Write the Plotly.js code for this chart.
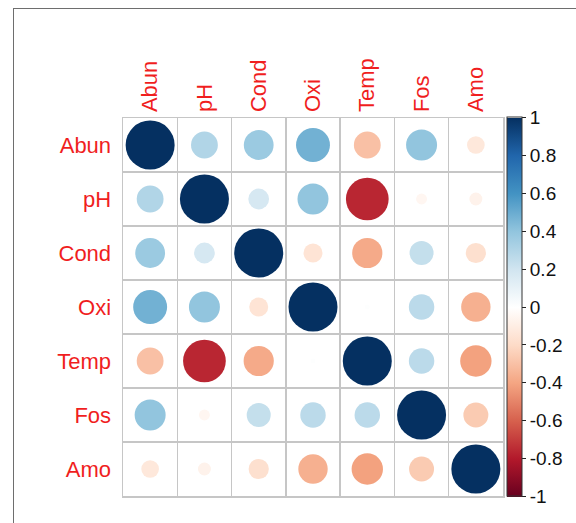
<!DOCTYPE html>
<html>
<head>
<meta charset="utf-8">
<script src="https://cdn.plot.ly/plotly-3.0.1.min.js"></script>
<style>
  html, body { margin: 0; padding: 0; background: #fff; }
  #wrap { position: relative; width: 576px; height: 523px; overflow: hidden; }
  #frame { position: absolute; left: 13px; top: 8px; width: 700px; height: 700px;
           border-left: 1.5px solid #6e6e6e; border-top: 1.5px solid #6e6e6e; pointer-events: none; }
  #chart { position: absolute; left: 0; top: 0; width: 576px; height: 523px; }
</style>
</head>
<body>
<div id="wrap">
  <div id="chart"></div>
  <div id="frame"></div>
</div>
<script>
// Variables (rows and columns of the correlation matrix)
var variables = ["Abun", "pH", "Cond", "Oxi", "Temp", "Fos", "Amo"];

// Correlation matrix rows
var rowAbun = [1.00, 0.30, 0.37, 0.48, -0.30, 0.40, -0.13];
var rowPH   = [0.30, 1.00, 0.18, 0.40, -0.76, -0.05, -0.07];
var rowCond = [0.37, 0.18, 1.00, -0.15, -0.38, 0.24, -0.17];
var rowOxi  = [0.48, 0.40, -0.15, 1.00, 0.01, 0.27, -0.36];
var rowTemp = [-0.30, -0.76, -0.38, 0.01, 1.00, 0.27, -0.41];
var rowFos  = [0.40, -0.05, 0.24, 0.27, 0.27, 1.00, -0.26];
var rowAmo  = [-0.13, -0.07, -0.17, -0.36, -0.41, -0.26, 1.00];

// Colorbar tick labels
var cbTicks = [-1, -0.8, -0.6, -0.4, -0.2, 0, 0.2, 0.4, 0.6, 0.8, 1];

var matrix = [rowAbun, rowPH, rowCond, rowOxi, rowTemp, rowFos, rowAmo];

var xs = [], ys = [], vals = [], sizes = [];
var fullDiameter = 49; // pixel diameter of a circle for |r| = 1
matrix.forEach(function (row, i) {
  row.forEach(function (v, j) {
    xs.push(variables[j]);
    ys.push(variables[i]);
    vals.push(v);
    sizes.push(fullDiameter * Math.sqrt(Math.abs(v)));
  });
});

var rdbu = [
  [0.0, '#67001F'], [0.1, '#B2182B'], [0.2, '#D6604D'], [0.3, '#F4A582'],
  [0.4, '#FDDBC7'], [0.5, '#FFFFFF'], [0.6, '#D1E5F0'], [0.7, '#92C5DE'],
  [0.8, '#4393C3'], [0.9, '#2166AC'], [1.0, '#053061']
];

var trace = {
  type: 'scatter',
  mode: 'markers',
  x: xs,
  y: ys,
  hoverinfo: 'skip',
  marker: {
    size: sizes,
    sizemode: 'diameter',
    color: vals,
    cmin: -1,
    cmax: 1,
    colorscale: rdbu,
    line: { width: 0 },
    opacity: 1,
    showscale: true,
    colorbar: {
      x: 1.0105,
      xanchor: 'left',
      xpad: 0,
      y: 0.5,
      yanchor: 'middle',
      ypad: 0,
      lenmode: 'pixels',
      len: 379,
      thickness: 15,
      outlinewidth: 1,
      outlinecolor: '#333',
      tickvals: cbTicks,
      ticktext: cbTicks.map(function (t) { return String(t); }),
      ticks: 'outside',
      ticklen: 4,
      tickwidth: 1,
      tickcolor: '#222',
      tickfont: { family: 'Liberation Sans, Arial, sans-serif', size: 19, color: '#111' }
    }
  }
};

var gridCol = '#c6c6c6';
var layout = {
  width: 576,
  height: 523,
  margin: { l: 123, r: 73, t: 118, b: 27, pad: 0 },
  paper_bgcolor: 'rgba(0,0,0,0)',
  plot_bgcolor: '#fff',
  showlegend: false,
  xaxis: {
    type: 'category',
    categoryorder: 'array',
    categoryarray: variables,
    side: 'top',
    tickangle: -90,
    tickson: 'boundaries',
    ticks: '',
    showgrid: true,
    gridcolor: gridCol,
    gridwidth: 1.5,
    showline: true,
    mirror: true,
    linecolor: gridCol,
    linewidth: 1.5,
    zeroline: false,
    fixedrange: true,
    range: [-0.5, 6.5],
    tickfont: { family: 'Liberation Sans, Arial, sans-serif', size: 22, color: '#f01e1e' }
  },
  yaxis: {
    type: 'category',
    categoryorder: 'array',
    categoryarray: variables,
    range: [6.5, -0.5],
    tickson: 'boundaries',
    ticks: '',
    ticklabelstandoff: 6,
    showgrid: true,
    gridcolor: gridCol,
    gridwidth: 1.5,
    showline: true,
    mirror: true,
    linecolor: gridCol,
    linewidth: 1.5,
    zeroline: false,
    fixedrange: true,
    tickfont: { family: 'Liberation Sans, Arial, sans-serif', size: 22, color: '#f01e1e' }
  }
};

Plotly.newPlot('chart', [trace], layout, { displayModeBar: false, staticPlot: true });
</script>
</body>
</html>
